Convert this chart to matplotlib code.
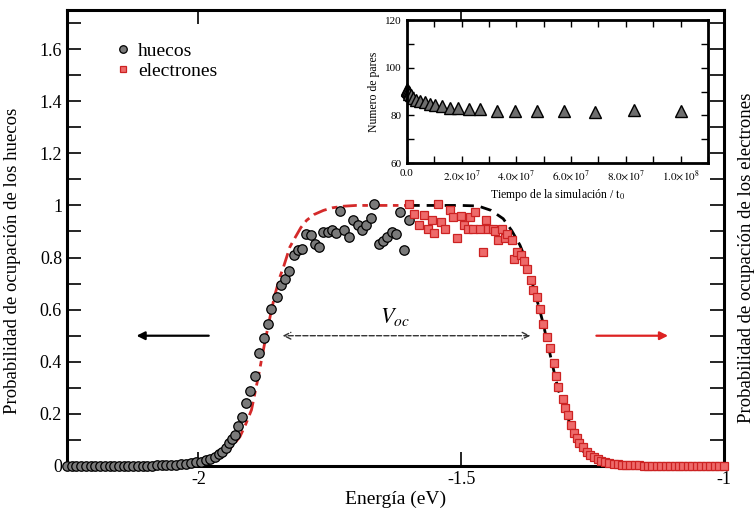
import matplotlib
matplotlib.use("Agg")
import matplotlib.pyplot as plt
from matplotlib.ticker import MultipleLocator, FixedLocator

plt.rcParams['font.family'] = ['Liberation Serif', 'DejaVu Serif']
plt.rcParams['mathtext.fontset'] = 'stix'

# huecos (circulos)
E_huecos = [-2.250, -2.241, -2.232, -2.223, -2.214, -2.205, -2.196, -2.187, -2.178, -2.169,
            -2.160, -2.151, -2.142, -2.133, -2.124, -2.115, -2.106, -2.097, -2.088, -2.079,
            -2.070, -2.061, -2.052, -2.043, -2.034, -2.024,
            -2.014, -2.004, -1.995, -1.985, -1.978, -1.969, -1.961, -1.955, -1.947, -1.941,
            -1.936, -1.931, -1.925, -1.917, -1.909, -1.901, -1.892, -1.884, -1.875, -1.868,
            -1.861, -1.850, -1.843, -1.835, -1.827, -1.819, -1.811, -1.802, -1.795, -1.786,
            -1.779, -1.770, -1.762, -1.754, -1.746, -1.738, -1.730, -1.722, -1.713, -1.705,
            -1.697, -1.689, -1.681, -1.672, -1.665, -1.657, -1.649, -1.641, -1.632, -1.624,
            -1.616, -1.608, -1.600]
P_huecos = [0.0, 0.0, 0.0, 0.0, 0.0, 0.0, 0.0, 0.0, 0.0, 0.0,
            0.0, 0.0, 0.0, 0.0, 0.0, 0.0, 0.001, 0.001, 0.001, 0.002,
            0.002, 0.003, 0.004, 0.005, 0.007, 0.009,
            0.013, 0.014, 0.017, 0.023, 0.028, 0.036, 0.045, 0.055, 0.070, 0.087,
            0.102, 0.119, 0.153, 0.189, 0.243, 0.289, 0.345, 0.432, 0.493, 0.544,
            0.604, 0.649, 0.693, 0.719, 0.747, 0.811, 0.828, 0.834, 0.891, 0.885,
            0.853, 0.840, 0.898, 0.898, 0.907, 0.894, 0.978, 0.904, 0.879, 0.945,
            0.926, 0.907, 0.923, 0.952, 1.004, 0.853, 0.863, 0.879, 0.898, 0.889,
            0.974, 0.830, 0.945]

# electrones (cuadrados)
E_elec = [-1.599, -1.589, -1.580, -1.570, -1.563, -1.556, -1.551, -1.545, -1.538, -1.531,
          -1.521, -1.516, -1.508, -1.501, -1.494, -1.487, -1.484, -1.478, -1.473, -1.465,
          -1.458, -1.453, -1.448, -1.440, -1.435, -1.429, -1.423, -1.417, -1.412, -1.404,
          -1.399, -1.393, -1.386, -1.380, -1.375, -1.367, -1.363, -1.356, -1.350, -1.344,
          -1.337, -1.331, -1.324, -1.320, -1.315, -1.307, -1.302, -1.296, -1.291, -1.286,
          -1.280, -1.275, -1.269, -1.261, -1.254, -1.247, -1.240, -1.233, -1.226, -1.218,
          -1.210, -1.202, -1.194, -1.186, -1.178, -1.170, -1.162, -1.153, -1.145, -1.137,
          -1.128, -1.120, -1.111, -1.103, -1.094, -1.086, -1.077, -1.069, -1.060, -1.051,
          -1.043, -1.034, -1.026, -1.017, -1.009, -1.000]
P_elec = [1.004, 0.966, 0.923, 0.962, 0.911, 0.945, 0.894, 1.004, 0.936, 0.911,
          0.981, 0.955, 0.876, 0.958, 0.923, 0.911, 0.955, 0.911, 0.974, 0.911,
          0.821, 0.943, 0.911, 0.911, 0.902, 0.866, 0.911, 0.876, 0.889, 0.866,
          0.796, 0.821, 0.808, 0.787, 0.757, 0.713, 0.674, 0.649, 0.604, 0.544,
          0.495, 0.451, 0.396, 0.345, 0.304, 0.259, 0.221, 0.195, 0.157, 0.125,
          0.106, 0.089, 0.074, 0.055, 0.042, 0.033, 0.026, 0.020, 0.016, 0.012,
          0.009, 0.007, 0.005, 0.004, 0.003, 0.002, 0.002, 0.001, 0.001, 0.001,
          0.0, 0.0, 0.0, 0.0, 0.0, 0.0, 0.0, 0.0, 0.0, 0.0,
          0.0, 0.0, 0.0, 0.0, 0.0, 0.0]

# ajuste huecos (rojo)
E_fit_h = [-1.973, -1.960, -1.947, -1.934, -1.921, -1.910, -1.899, -1.886, -1.874, -1.861,
           -1.854, -1.845, -1.838, -1.826, -1.819, -1.805, -1.794, -1.780, -1.762, -1.745,
           -1.724, -1.700, -1.650, -1.600]
P_fit_h = [0.017, 0.030, 0.049, 0.080, 0.112, 0.160, 0.215, 0.342, 0.470, 0.598,
           0.660, 0.725, 0.764, 0.840, 0.866, 0.915, 0.943, 0.965, 0.981, 0.991,
           0.997, 1.0, 1.0, 1.0]

# ajuste electrones (negro)
E_fit_e = [-1.600, -1.500, -1.468, -1.443, -1.420, -1.404, -1.388, -1.379, -1.369, -1.360,
           -1.352, -1.344, -1.334, -1.324, -1.315, -1.302, -1.289, -1.270, -1.251, -1.225,
           -1.200]
P_fit_e = [1.0, 1.0, 0.998, 0.981, 0.949, 0.904, 0.847, 0.802, 0.738, 0.665,
           0.610, 0.547, 0.457, 0.368, 0.291, 0.215, 0.138, 0.061, 0.023, 0.010,
           0.004]

# inset: numero de pares
t_sim = [0.0, 0.2e6, 0.4e6, 0.7e6, 1.0e6, 1.4e6, 2.2e6, 3.4e6, 4.9e6, 6.7e6, 8.5e6,
         10.4e6, 12.8e6, 15.9e6, 18.9e6, 22.6e6, 26.8e6, 32.9e6, 39.6e6, 47.6e6,
         57.3e6, 68.9e6, 82.9e6, 100e6]
n_pares = [91.0, 90.8, 90.4, 89.8, 89.0, 88.4, 87.5, 86.6, 86.0, 85.5, 85.0,
           84.5, 84.0, 83.3, 83.0, 82.7, 82.5, 82.0, 81.7, 81.7,
           81.8, 81.5, 82.4, 82.0]

fig = plt.figure(figsize=(7.56, 5.16), dpi=100)
ax = fig.add_axes([0.0886, 0.0969, 0.869, 0.8837])

ax.plot(E_fit_h, P_fit_h, color='#d42a2a', lw=2.0, linestyle=(0, (5, 2, 2, 2)), zorder=2)
ax.plot(E_fit_e, P_fit_e, color='black', lw=2.0, linestyle=(0, (4, 2.5)), zorder=2)
ax.plot(E_huecos, P_huecos, 'o', ms=6.8, mfc='#7a7a7a', mec='black', mew=0.9,
        label='huecos', clip_on=False, zorder=3)
ax.plot(E_elec, P_elec, 's', ms=6.0, mfc='#ee6a6a', mec='#cc2222', mew=0.9,
        label='electrones', clip_on=False, zorder=3)

ax.set_xlim(-2.25, -1.0)
ax.set_ylim(0, 1.75)
ax.xaxis.set_major_locator(FixedLocator([-2, -1.5, -1]))
ax.set_xticklabels(['-2', '-1.5', '-1'])
ax.set_yticks([0, 0.2, 0.4, 0.6, 0.8, 1.0, 1.2, 1.4, 1.6])
ax.set_yticklabels(['0', '0.2', '0.4', '0.6', '0.8', '1', '1.2', '1.4', '1.6'])
ax.yaxis.set_minor_locator(MultipleLocator(0.1))
ax.tick_params(which='both', direction='in', top=True, right=True, width=1.2,
               labelsize=13, colors='black', length=10)
for s in ax.spines.values():
    s.set_linewidth(2.2)

ax.set_xlabel('Energía (eV)', fontsize=14, labelpad=2)
ax.set_ylabel('Probabilidad de ocupación de los huecos', fontsize=13.5)
ax.yaxis.set_label_coords(-0.07, 0.45)
fig.text(0.988, 0.50, 'Probabilidad de ocupación de los electrones', rotation=90,
         fontsize=13.5, ha='center', va='center')

ax.legend(loc='upper left', bbox_to_anchor=(0.055, 0.95), frameon=False, fontsize=14,
          handletextpad=0.3, labelspacing=0.1, handlelength=1.0, borderpad=0,
          markerscale=0.8)

# flechas
ax.annotate('', xy=(-2.123, 0.5), xytext=(-1.975, 0.5),
            arrowprops=dict(arrowstyle='-|>', color='black', lw=1.6, mutation_scale=12))
ax.annotate('', xy=(-1.101, 0.5), xytext=(-1.248, 0.5),
            arrowprops=dict(arrowstyle='-|>', color='#dd2222', lw=1.6, mutation_scale=12))
ax.annotate('', xy=(-1.845, 0.5), xytext=(-1.363, 0.5),
            arrowprops=dict(arrowstyle='<->', color='#333333', lw=1.0, linestyle='--',
                            mutation_scale=12))
ax.text(-1.625, 0.572, r'$V_{oc}$', fontsize=16, ha='center', va='center')

# inset
axin = fig.add_axes([0.538, 0.684, 0.3985, 0.277])
axin.plot(t_sim, n_pares, '^', ms=8, mfc='#6e6e6e', mec='black', mew=1.0, clip_on=False)
axin.set_xlim(0, 1.1e8)
axin.set_ylim(60, 120)
axin.set_xticks([0, 2e7, 4e7, 6e7, 8e7, 1e8])
axin.set_xticklabels(['0.0', r'$2.0{\times}10^7$', r'$4.0{\times}10^7$', r'$6.0{\times}10^7$',
                      r'$8.0{\times}10^7$', r'$1.0{\times}10^8$'])
axin.xaxis.set_minor_locator(MultipleLocator(1e7))
axin.set_yticks([60, 80, 100, 120])
axin.yaxis.set_minor_locator(MultipleLocator(10))
axin.tick_params(which='both', direction='in', top=True, right=True, labelsize=8,
                 width=1.0, length=5, pad=4)
for s in axin.spines.values():
    s.set_linewidth(2.0)
axin.set_xlabel(r'Tiempo de la simulación / $\mathrm{t_0}$', fontsize=8.5, labelpad=3)
axin.set_ylabel('Numero de pares', fontsize=8.5, labelpad=3)

fig.savefig('out.png', dpi=100)
